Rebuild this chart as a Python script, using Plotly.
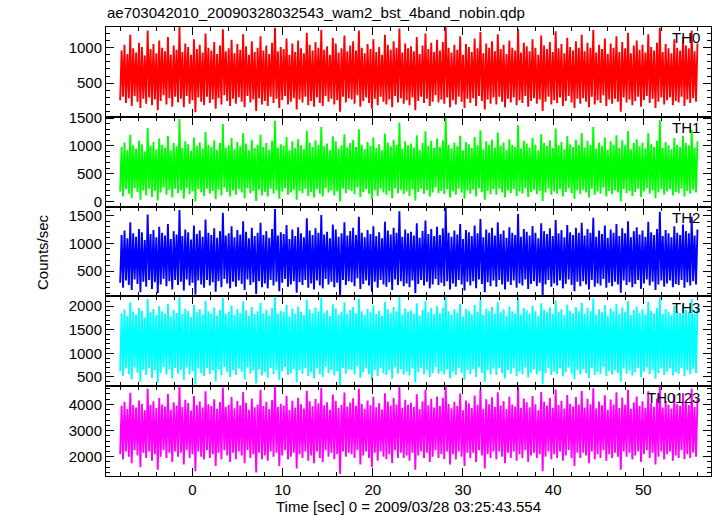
import numpy as np
import plotly.graph_objects as go
from plotly.subplots import make_subplots

title_text = "ae703042010_20090328032543_wam2_bst_4band_nobin.qdp"
x_title = "Time [sec] 0 = 2009/03/28 03:25:43.554"
y_title = "Counts/sec"
t_start, t_end = -8.0, 56.0

th0 = [260, 960, 310, 1040, 220, 910, 290, 1180, 180, 990, 320, 930, 240, 1070, 150, 1010, 280, 890, 210, 1240,
       300, 980, 190, 1050, 270, 920, 120, 1100, 250, 1000, 330, 950, 200, 1150, 290, 900, 170, 1030, 310, 970,
       230, 1290, 280, 940, 160, 1060, 320, 1010, 210, 900, 260, 1120, 90, 980, 300, 1040, 240, 930, 190, 1200,
       310, 1000, 220, 960, 270, 1080, 140, 910, 290, 1030, 200, 1260, 330, 950, 250, 990, 180, 1110, 280, 920,
       210, 1050, 300, 970, 240, 1190, 160, 1020, 320, 900, 230, 1090, 270, 940, 110, 1000, 290, 1160, 200, 960,
       250, 1030, 180, 910, 310, 1070, 220, 1280, 280, 950, 150, 1010, 260, 980, 320, 1130, 200, 900, 240, 1060,
       290, 940, 130, 1100, 270, 990, 230, 920, 310, 1210, 190, 1040, 250, 960, 170, 1080, 300, 1000, 220, 1250,
       180, 970, 320, 1020, 240, 900, 280, 1140, 200, 1060, 260, 930, 100, 990, 310, 1170, 230, 950, 290, 1030,
       270, 1090, 210, 960, 330, 1240, 170, 1000, 250, 920, 300, 1050, 220, 980, 140, 1120, 280, 940, 190, 1010,
       310, 900, 240, 1180, 200, 1040, 270, 970, 160, 1090, 320, 1000, 230, 1270, 290, 930, 210, 1060, 260, 990,
       190, 1020, 300, 950, 120, 1150, 250, 910, 310, 1030, 220, 1200, 280, 980, 180, 1070, 240, 940, 330, 1110,
       230, 960, 270, 1080, 210, 1290, 300, 1000, 160, 930, 260, 1040, 200, 970, 310, 1160, 240, 900, 150, 1050,
       280, 1010, 220, 940, 290, 1130, 180, 990, 320, 1220, 250, 920, 130, 1060, 270, 1000, 210, 1090, 300, 950,
       200, 1190, 310, 980, 240, 1040, 160, 910, 280, 1100, 230, 1000, 300, 960, 190, 1260, 260, 930, 220, 1070,
       320, 1020, 170, 950, 250, 1120, 290, 1000, 210, 900, 270, 1170, 110, 1030, 240, 980, 310, 1080, 200, 940,
       260, 1230, 220, 990, 300, 1050, 180, 920, 250, 1140, 320, 1010, 230, 960, 150, 1090, 280, 1000, 210, 1180,
       290, 950, 240, 1070, 160, 1000, 310, 1250, 200, 930, 260, 1040, 220, 980, 330, 1130, 180, 910, 270, 1060,
       210, 1000, 280, 1160, 240, 940, 100, 1080, 300, 990, 230, 1210, 270, 920, 190, 1030, 250, 1100, 310, 970,
       170, 1040, 260, 930, 320, 1190, 220, 1010, 280, 960, 150, 1070, 240, 1280, 300, 940, 200, 1050, 260, 990,
       300, 920, 190, 1120, 250, 1000, 230, 960, 310, 1150, 180, 1030, 270, 990, 220, 1240, 290, 950, 240, 1060]

th1 = [180, 980, 90, 1060, 220, 920, 140, 1200, 60, 1010, 240, 950, 170, 1090, 30, 1030, 200, 900, 110, 1320,
       230, 1000, 80, 1070, 190, 940, 20, 1130, 160, 1020, 250, 970, 120, 1180, 210, 920, 70, 1050, 230, 990,
       150, 1480, 200, 960, 50, 1080, 240, 1030, 130, 910, 180, 1150, 0, 1000, 220, 1060, 160, 950, 100, 1250,
       230, 1020, 140, 980, 190, 1100, 40, 930, 210, 1050, 110, 1390, 250, 970, 170, 1010, 90, 1140, 200, 940,
       120, 1070, 220, 990, 160, 1230, 60, 1040, 240, 920, 150, 1110, 190, 960, 10, 1020, 210, 1200, 110, 980,
       170, 1050, 90, 930, 230, 1090, 140, 1450, 200, 970, 50, 1030, 180, 1000, 240, 1160, 120, 920, 160, 1080,
       210, 960, 30, 1120, 190, 1010, 150, 940, 230, 1270, 100, 1060, 170, 980, 70, 1100, 220, 1020, 140, 1340,
       90, 990, 240, 1040, 160, 920, 200, 1170, 110, 1080, 180, 950, 0, 1010, 230, 1210, 150, 970, 210, 1050,
       190, 1110, 130, 980, 250, 1300, 80, 1020, 170, 940, 220, 1070, 140, 1000, 40, 1150, 200, 960, 100, 1030,
       230, 920, 160, 1220, 120, 1060, 190, 990, 60, 1110, 240, 1020, 150, 1420, 210, 950, 130, 1080, 180, 1010,
       100, 1040, 220, 970, 20, 1190, 170, 930, 230, 1050, 140, 1260, 200, 1000, 90, 1090, 160, 960, 250, 1130,
       150, 980, 190, 1100, 130, 1500, 220, 1020, 70, 950, 180, 1060, 120, 990, 230, 1180, 160, 920, 50, 1070,
       200, 1030, 140, 960, 210, 1160, 90, 1010, 240, 1280, 170, 940, 30, 1080, 190, 1020, 130, 1110, 220, 970,
       120, 1240, 230, 1000, 160, 1060, 70, 930, 200, 1120, 150, 1020, 220, 980, 100, 1370, 180, 950, 140, 1090,
       240, 1040, 80, 970, 170, 1140, 210, 1020, 130, 920, 190, 1210, 10, 1050, 160, 1000, 230, 1100, 120, 960,
       180, 1310, 140, 1010, 220, 1070, 90, 940, 170, 1170, 240, 1030, 150, 980, 50, 1110, 200, 1020, 130, 1230,
       210, 970, 160, 1090, 70, 1020, 230, 1340, 120, 950, 180, 1060, 140, 1000, 250, 1150, 90, 930, 190, 1080,
       130, 1020, 200, 1190, 160, 960, 0, 1100, 220, 1010, 150, 1260, 190, 940, 100, 1050, 170, 1120, 230, 990,
       80, 1060, 180, 950, 240, 1230, 140, 1030, 200, 980, 60, 1090, 160, 1460, 220, 960, 120, 1070, 180, 1010,
       220, 940, 110, 1140, 170, 1020, 150, 980, 230, 1180, 90, 1050, 190, 1010, 140, 1290, 210, 970, 160, 1080]

th2 = [290, 1150, 200, 1230, 330, 1090, 250, 1380, 160, 1180, 350, 1120, 270, 1260, 120, 1200, 310, 1060, 220, 1520,
       340, 1170, 180, 1240, 300, 1110, 100, 1300, 260, 1190, 360, 1140, 230, 1350, 320, 1080, 170, 1220, 340, 1160,
       250, 1600, 310, 1130, 150, 1250, 350, 1200, 240, 1070, 290, 1320, 80, 1170, 330, 1230, 260, 1120, 200, 1430,
       340, 1190, 240, 1150, 300, 1270, 130, 1100, 320, 1220, 210, 1550, 360, 1140, 280, 1180, 190, 1310, 310, 1110,
       220, 1240, 330, 1160, 270, 1400, 160, 1210, 350, 1090, 250, 1280, 300, 1130, 90, 1190, 320, 1370, 210, 1150,
       280, 1220, 190, 1100, 340, 1260, 240, 1620, 310, 1140, 140, 1200, 290, 1170, 360, 1330, 220, 1080, 260, 1250,
       320, 1130, 110, 1290, 300, 1180, 250, 1110, 340, 1450, 200, 1230, 280, 1150, 170, 1270, 330, 1190, 240, 1510,
       190, 1160, 360, 1210, 260, 1090, 310, 1340, 210, 1250, 290, 1120, 60, 1180, 340, 1380, 250, 1140, 320, 1220,
       300, 1280, 230, 1150, 370, 1480, 180, 1190, 270, 1110, 330, 1240, 240, 1170, 130, 1310, 310, 1130, 200, 1200,
       340, 1090, 260, 1390, 220, 1230, 300, 1160, 160, 1280, 350, 1190, 250, 1580, 320, 1120, 230, 1250, 280, 1180,
       210, 1210, 330, 1140, 100, 1360, 270, 1100, 340, 1220, 240, 1410, 310, 1170, 190, 1260, 260, 1130, 360, 1300,
       250, 1150, 290, 1270, 230, 1640, 320, 1190, 170, 1120, 280, 1230, 220, 1160, 340, 1350, 260, 1080, 150, 1240,
       310, 1200, 240, 1130, 320, 1320, 190, 1180, 350, 1440, 270, 1110, 120, 1250, 300, 1190, 230, 1280, 330, 1140,
       220, 1380, 340, 1170, 260, 1230, 170, 1100, 310, 1290, 250, 1190, 330, 1150, 200, 1530, 280, 1120, 240, 1260,
       350, 1210, 180, 1140, 270, 1310, 320, 1190, 230, 1090, 290, 1360, 70, 1220, 260, 1170, 340, 1270, 220, 1130,
       280, 1420, 240, 1180, 330, 1240, 190, 1110, 270, 1330, 350, 1200, 250, 1150, 140, 1280, 310, 1190, 230, 1370,
       320, 1140, 260, 1260, 170, 1190, 340, 1460, 220, 1120, 280, 1230, 240, 1170, 360, 1320, 200, 1100, 290, 1250,
       230, 1190, 310, 1350, 260, 1130, 110, 1270, 330, 1180, 250, 1400, 300, 1110, 210, 1220, 270, 1290, 340, 1160,
       180, 1230, 280, 1120, 350, 1390, 240, 1200, 310, 1150, 160, 1260, 260, 1570, 330, 1130, 220, 1240, 280, 1180,
       330, 1110, 210, 1310, 270, 1190, 250, 1150, 340, 1340, 200, 1220, 300, 1180, 240, 1480, 320, 1140, 260, 1250]

th3 = [620, 1850, 520, 1930, 680, 1790, 560, 2080, 450, 1880, 700, 1820, 590, 1960, 400, 1900, 650, 1760, 540, 2150,
       690, 1870, 480, 1940, 640, 1810, 380, 2000, 580, 1890, 710, 1840, 550, 2050, 660, 1780, 470, 1920, 690, 1860,
       570, 2190, 650, 1830, 440, 1950, 700, 1900, 560, 1770, 620, 2020, 340, 1870, 680, 1930, 580, 1820, 520, 2110,
       690, 1890, 560, 1850, 640, 1970, 410, 1800, 660, 1920, 530, 2170, 710, 1840, 600, 1880, 500, 2010, 650, 1810,
       540, 1940, 680, 1860, 610, 2100, 450, 1910, 700, 1790, 570, 1980, 640, 1830, 360, 1890, 660, 2070, 530, 1850,
       600, 1920, 490, 1800, 690, 1960, 560, 2200, 650, 1840, 430, 1900, 620, 1870, 710, 2030, 540, 1780, 580, 1950,
       660, 1830, 390, 1990, 640, 1880, 570, 1810, 690, 2140, 520, 1930, 600, 1850, 470, 1970, 680, 1890, 560, 2180,
       500, 1860, 710, 1910, 580, 1790, 650, 2040, 530, 1950, 620, 1820, 330, 1880, 690, 2080, 570, 1840, 660, 1920,
       640, 1980, 550, 1850, 720, 2160, 480, 1890, 600, 1810, 680, 1940, 560, 1870, 420, 2010, 650, 1830, 520, 1900,
       690, 1790, 580, 2090, 540, 1930, 640, 1860, 460, 1980, 700, 1890, 570, 2190, 660, 1820, 550, 1950, 610, 1880,
       530, 1910, 680, 1840, 380, 2060, 600, 1800, 690, 1920, 560, 2110, 650, 1870, 500, 1960, 580, 1830, 710, 2000,
       570, 1850, 620, 1970, 550, 2200, 660, 1890, 470, 1820, 610, 1930, 540, 1860, 690, 2050, 580, 1780, 440, 1940,
       650, 1900, 560, 1830, 670, 2020, 500, 1880, 700, 2140, 590, 1810, 400, 1950, 640, 1890, 550, 1980, 680, 1840,
       540, 2080, 690, 1870, 580, 1930, 470, 1800, 650, 1990, 570, 1890, 680, 1850, 520, 2170, 610, 1820, 560, 1960,
       700, 1910, 490, 1840, 590, 2010, 660, 1890, 550, 1790, 620, 2060, 350, 1920, 580, 1870, 690, 1970, 540, 1830,
       610, 2120, 560, 1880, 680, 1940, 510, 1810, 600, 2030, 700, 1900, 570, 1850, 450, 1980, 650, 1890, 550, 2070,
       660, 1840, 580, 1960, 480, 1890, 690, 2160, 540, 1820, 610, 1930, 560, 1870, 710, 2020, 520, 1800, 620, 1950,
       550, 1890, 650, 2050, 580, 1830, 400, 1970, 680, 1880, 570, 2100, 640, 1810, 530, 1920, 600, 1990, 690, 1860,
       500, 1930, 610, 1820, 700, 2090, 560, 1900, 650, 1850, 460, 1960, 580, 2180, 680, 1830, 540, 1940, 610, 1880,
       680, 1810, 530, 2010, 600, 1890, 570, 1850, 690, 2040, 520, 1920, 640, 1880, 560, 2150, 670, 1840, 580, 1950]

th0123 = [2100, 3950, 1900, 4100, 2200, 3820, 2000, 4450, 1750, 3980, 2250, 3880, 2050, 4150, 1600, 4020, 2150, 3780, 1950, 4600,
          2200, 3990, 1850, 4120, 2100, 3860, 1500, 4250, 2000, 4000, 2250, 3920, 1950, 4400, 2150, 3800, 1800, 4080, 2200, 3960,
          2000, 4700, 2150, 3900, 1700, 4180, 2250, 4050, 1950, 3770, 2100, 4320, 1450, 3980, 2200, 4110, 2000, 3880, 1900, 4500,
          2250, 4010, 1950, 3940, 2100, 4200, 1650, 3830, 2150, 4090, 1900, 4650, 2250, 3910, 2050, 3990, 1800, 4280, 2150, 3850,
          1900, 4130, 2200, 3970, 2050, 4480, 1750, 4060, 2250, 3800, 1950, 4230, 2100, 3890, 1400, 4000, 2150, 4560, 1900, 3940,
          2050, 4100, 1850, 3820, 2200, 4170, 2000, 4690, 2150, 3900, 1650, 4030, 2050, 3960, 2250, 4330, 1900, 3790, 2000, 4140,
          2150, 3880, 1550, 4260, 2100, 4010, 1950, 3840, 2200, 4520, 1850, 4120, 2050, 3930, 1750, 4210, 2200, 4040, 1950, 4640,
          1800, 3970, 2250, 4080, 2000, 3800, 2150, 4380, 1900, 4140, 2100, 3870, 1350, 3990, 2200, 4460, 2000, 3920, 2150, 4070,
          2100, 4240, 1950, 3950, 2250, 4600, 1700, 4020, 2050, 3830, 2200, 4150, 1950, 3970, 1600, 4290, 2150, 3890, 1850, 4050,
          2200, 3810, 2000, 4430, 1900, 4110, 2100, 3960, 1750, 4250, 2250, 4000, 1950, 4680, 2150, 3870, 1950, 4180, 2050, 3990,
          1850, 4060, 2150, 3900, 1500, 4390, 2050, 3820, 2200, 4120, 1950, 4550, 2150, 3970, 1800, 4220, 2000, 3880, 2250, 4300,
          1950, 3940, 2100, 4260, 1900, 4700, 2200, 4020, 1700, 3850, 2100, 4100, 1900, 3950, 2200, 4420, 2000, 3780, 1650, 4150,
          2150, 4040, 1950, 3860, 2150, 4340, 1800, 3990, 2250, 4590, 2050, 3830, 1550, 4200, 2100, 4010, 1950, 4270, 2200, 3900,
          1900, 4470, 2200, 3960, 2000, 4130, 1750, 3820, 2150, 4290, 1950, 4000, 2200, 3920, 1850, 4660, 2100, 3860, 1950, 4230,
          2250, 4080, 1800, 3890, 2050, 4320, 2150, 4010, 1950, 3780, 2100, 4480, 1450, 4100, 2000, 3960, 2200, 4250, 1900, 3870,
          2100, 4570, 1950, 3980, 2200, 4140, 1850, 3840, 2050, 4360, 2250, 4030, 1950, 3920, 1650, 4280, 2150, 4000, 1950, 4510,
          2150, 3880, 2050, 4220, 1750, 4010, 2200, 4620, 1900, 3850, 2100, 4110, 1950, 3970, 2250, 4350, 1850, 3800, 2100, 4190,
          1950, 4000, 2150, 4470, 2000, 3860, 1500, 4260, 2200, 3990, 2000, 4560, 2150, 3830, 1900, 4070, 2050, 4300, 2200, 3940,
          1800, 4120, 2100, 3870, 2250, 4500, 1950, 4040, 2150, 3910, 1700, 4230, 2000, 4700, 2200, 3880, 1900, 4130, 2100, 3990,
          2200, 3840, 1850, 4380, 2050, 4010, 1950, 3950, 2250, 4440, 1900, 4090, 2100, 3980, 1950, 4610, 2150, 3900, 2000, 4200]

series = [th0, th1, th2, th3, th0123]
labels = ["TH0", "TH1", "TH2", "TH3", "TH0123"]
colors = ["#ff0000", "#00ff00", "#0000ff", "#00ffff", "#ff00ff"]
y_ranges = [[27, 1291], [-92, 1522], [45, 1662], [304, 2205], [1263, 4698]]
y_dticks = [500, 500, 500, 500, 1000]
y_minor = [100, 100, 100, 100, 200]
x_range = [-9.57, 57.5]

FONT = "Liberation Sans, Arial, Helvetica, sans-serif"

fig = make_subplots(rows=5, cols=1, shared_xaxes=True, vertical_spacing=0)

for i, (vals, lab, col) in enumerate(zip(series, labels, colors)):
    t = np.linspace(t_start, t_end, len(vals))
    fig.add_trace(go.Scatter(x=t, y=vals, mode="lines", line=dict(color=col, width=1.9),
                             showlegend=False, hoverinfo="skip"), row=i + 1, col=1)
    fig.update_yaxes(range=y_ranges[i], dtick=y_dticks[i], tick0=0, ticks="inside", ticklen=8,
                     tickwidth=1, tickcolor="black", mirror="allticks", showline=True,
                     linecolor="black", linewidth=1, showgrid=False, zeroline=False,
                     minor=dict(dtick=y_minor[i], tick0=0, ticks="inside", ticklen=4,
                                tickcolor="black", showgrid=False),
                     tickfont=dict(family=FONT, size=15, color="black"),
                     row=i + 1, col=1)
    fig.update_xaxes(range=x_range, dtick=10, tick0=0, ticks="inside", ticklen=8,
                     tickwidth=1, tickcolor="black", mirror="allticks", showline=True,
                     linecolor="black", linewidth=1, showgrid=False, zeroline=False,
                     minor=dict(dtick=2, tick0=0, ticks="inside", ticklen=4,
                                tickcolor="black", showgrid=False),
                     tickfont=dict(family=FONT, size=15, color="black"),
                     row=i + 1, col=1)
    xref = "x domain" if i == 0 else f"x{i + 1} domain"
    yref = "y domain" if i == 0 else f"y{i + 1} domain"
    fig.add_annotation(text=lab, xref=xref, yref=yref, x=0.985, y=0.995,
                       xanchor="right", yanchor="top", showarrow=False,
                       font=dict(family=FONT, size=15, color="black"))

fig.update_xaxes(title=dict(text=x_title, font=dict(family=FONT, size=15, color="black"), standoff=2),
                 row=5, col=1)

fig.add_annotation(text=y_title, xref="paper", yref="paper", x=-0.105, y=0.5,
                   xanchor="center", yanchor="middle", textangle=-90, showarrow=False,
                   font=dict(family=FONT, size=15, color="black"))

fig.update_layout(
    width=717, height=516,
    margin=dict(l=106, r=6, t=27, b=40),
    paper_bgcolor="white", plot_bgcolor="white",
    title=dict(text=title_text, x=107 / 717, xanchor="left", y=1 - 13 / 516, yanchor="middle",
               font=dict(family=FONT, size=15, color="black")),
    showlegend=False,
)

fig.write_html("out.html", config={"displayModeBar": False},
               post_script="document.body.style.margin='0';")
